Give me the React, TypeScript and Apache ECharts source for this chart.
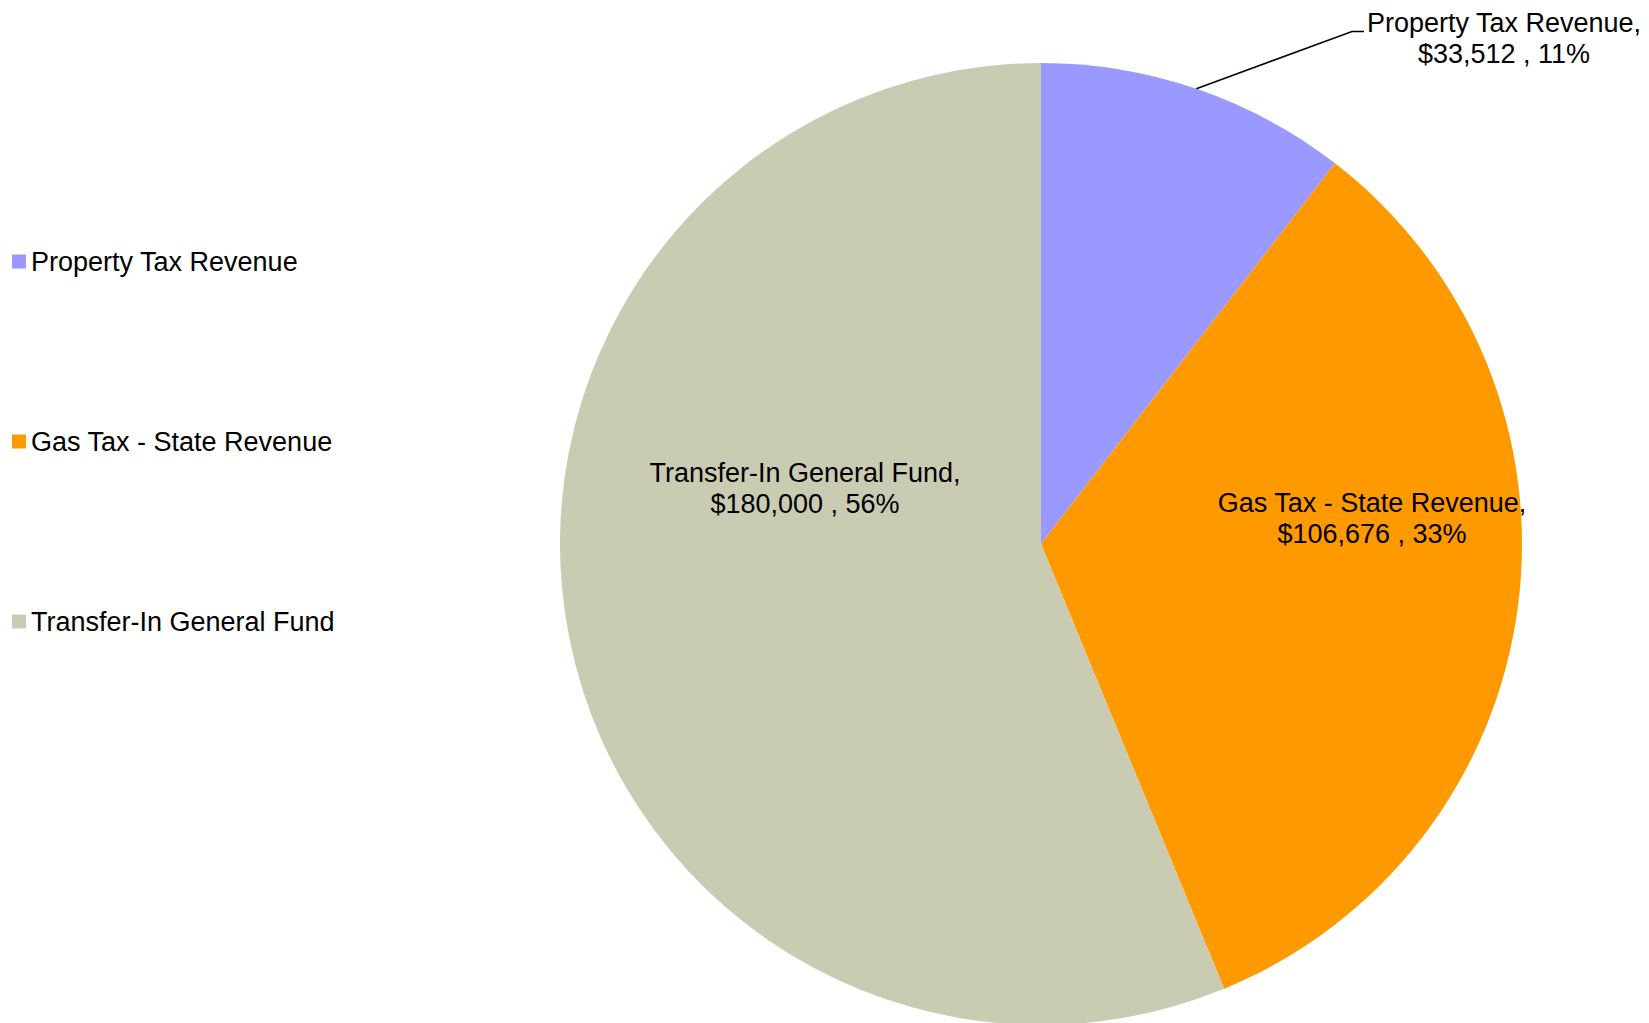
import React, { useEffect, useRef } from "react";
import * as echarts from "echarts";

const CATEGORIES = ["Property Tax Revenue", "Gas Tax - State Revenue", "Transfer-In General Fund"];
const VALUES = [33512, 106676, 180000];
const PERCENT_LABELS = ["11%", "33%", "56%"];
const COLORS = ["#9999FF", "#FF9900", "#C9CCB3"];

const CX = 1041;
const CY = 544;
const R = 481;
const LABEL_POS: [number, number][] = [
  [1504, 38],
  [1372, 518],
  [805, 488],
];
const ELBOW: [number, number] = [1352, 31.5];
const LINE_END: [number, number] = [1364, 31.5];
const FONT = "'Liberation Sans', Arial, sans-serif";
const FONT_SIZE = 27;

export default function App() {
  const ref = useRef<HTMLDivElement>(null);
  useEffect(() => {
    if (!ref.current) return;
    const chart = echarts.init(ref.current, null, { renderer: "svg" });
    const total = VALUES.reduce((a, b) => a + b, 0);
    const mid = (VALUES[0] / 2 / total) * Math.PI * 2;
    const edge: [number, number] = [CX + R * Math.sin(mid), CY - R * Math.cos(mid)];

    chart.setOption({
      animation: false,
      backgroundColor: "#ffffff",
      color: COLORS,
      legend: {
        orient: "vertical",
        left: 12,
        top: 248,
        padding: 0,
        icon: "rect",
        itemWidth: 14,
        itemHeight: 14,
        itemGap: 153,
        selectedMode: false,
        data: CATEGORIES,
        textStyle: { fontFamily: FONT, fontSize: FONT_SIZE, color: "#000", lineHeight: 26 },
      },
      graphic: [
        {
          type: "polyline",
          shape: { points: [edge, ELBOW, LINE_END] },
          style: { stroke: "#000", lineWidth: 1.6, fill: null },
          z: 10,
        },
      ],
      series: [
        {
          type: "pie",
          center: [CX, CY],
          radius: R,
          startAngle: 90,
          clockwise: true,
          avoidLabelOverlap: false,
          silent: true,
          data: CATEGORIES.map((name, i) => ({
            name,
            value: VALUES[i],
            itemStyle: { color: COLORS[i] },
          })),
          label: {
            show: true,
            position: "inside",
            color: "#000",
            fontFamily: FONT,
            fontSize: FONT_SIZE,
            lineHeight: 31,
            align: "center",
            formatter: (p: any) =>
              `${p.name},\n$${Number(p.value).toLocaleString("en-US")} , ${PERCENT_LABELS[p.dataIndex]}`,
          },
          labelLine: { show: false },
          labelLayout: (p: any) => ({
            x: LABEL_POS[p.dataIndex][0],
            y: LABEL_POS[p.dataIndex][1],
            align: "center",
            verticalAlign: "middle",
          }),
        },
      ],
    });
    return () => chart.dispose();
  }, []);
  return (
    <div
      ref={ref}
      style={{ position: "fixed", left: 0, top: 0, width: 1649, height: 1023 }}
    />
  );
}
